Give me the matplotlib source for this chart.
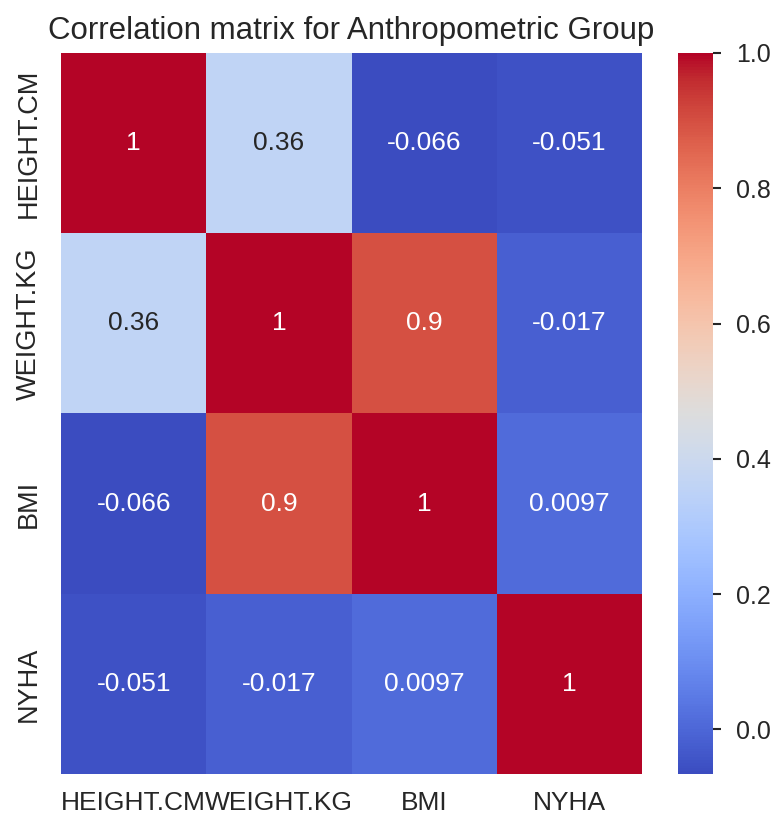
import matplotlib
matplotlib.use("Agg")
from matplotlib import pyplot as plt
import seaborn as sns
import numpy as np
import pandas as pd

# correlation values
labels = ["HEIGHT.CM", "WEIGHT.KG", "BMI", "NYHA"]
height_row = [1.0, 0.36, -0.066, -0.051]
weight_row = [0.36, 1.0, 0.9, -0.017]
bmi_row = [-0.066, 0.9, 1.0, 0.0097]
nyha_row = [-0.051, -0.017, 0.0097, 1.0]

corr = pd.DataFrame([height_row, weight_row, bmi_row, nyha_row],
                    index=labels, columns=labels)

sns.set_style("white")
plt.rcParams['font.family'] = ['Liberation Sans', 'DejaVu Sans']
plt.rcParams['text.color'] = '0.15'
plt.rcParams['xtick.color'] = '0.15'
plt.rcParams['ytick.color'] = '0.15'

fig = plt.figure(figsize=(7.73, 8.15), dpi=100)
ax = fig.add_axes([0.079, 0.0503, 0.7515, 0.8847])
cax = fig.add_axes([0.877, 0.0503, 0.045, 0.8847])

sns.heatmap(corr, annot=True, fmt=".2g", cmap="coolwarm", ax=ax, cbar_ax=cax,
            annot_kws={"fontsize": 19})

ax.set_title("Correlation matrix for Anthropometric Group", fontsize=22.5, pad=10)
ax.tick_params(axis="x", length=0, labelsize=19, pad=12)
ax.tick_params(axis="y", length=0, labelsize=19.5, pad=14)
ax.set_yticklabels(labels, rotation=90, va="center")
ax.set_xticklabels(labels, rotation=0)

cax.tick_params(labelsize=18, length=6, width=1.5, pad=11)
cax.set_yticks([0.0, 0.2, 0.4, 0.6, 0.8, 1.0])
cax.set_yticklabels(["0.0", "0.2", "0.4", "0.6", "0.8", "1.0"])
for s in cax.spines.values():
    s.set_visible(False)

plt.savefig("out.png", dpi=100)
